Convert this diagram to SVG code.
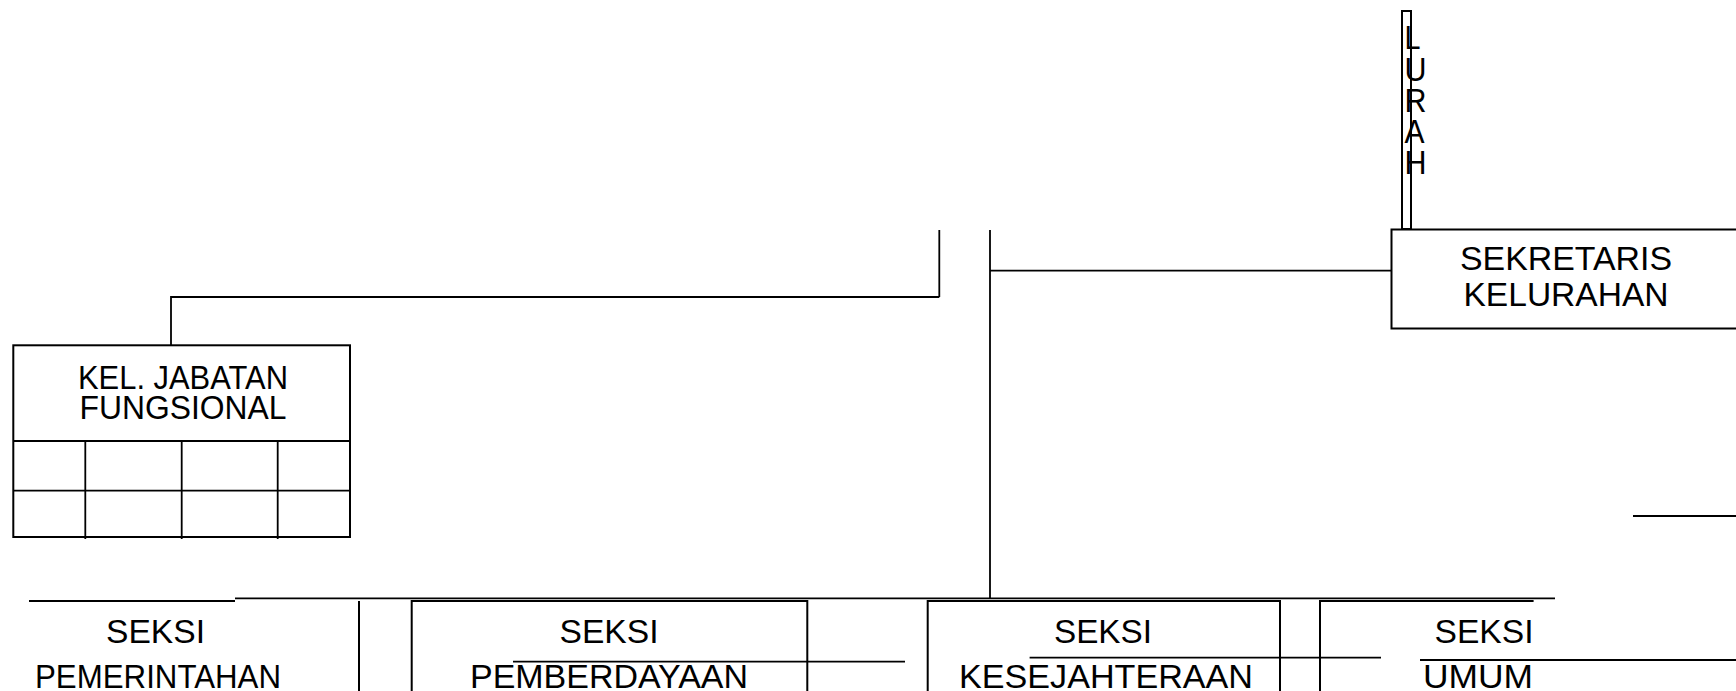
<svg xmlns="http://www.w3.org/2000/svg" width="1736" height="691" viewBox="0 0 1736 691">
<style>
.b{fill:none;stroke:#000;stroke-width:2}
.l{fill:none;stroke:#000;stroke-width:1.8}
.t{font-family:"Liberation Sans",Arial,sans-serif;font-size:34px;fill:#000}
.m{text-anchor:middle}
</style>
<rect width="1736" height="691" fill="#fff"/>
<g id="connectors">
<path class="l" d="M990 230V599M990 270.7H1391.5"/>
<path class="l" d="M939.3 230V297M939.3 297H171V345.5"/>
<path class="l" d="M235 598.3H1555"/>
<path class="l" d="M1633 516H1736" stroke="#333"/>
<path class="l" d="M513 661.7H905M1029.6 657.7H1381M1420 660H1736"/>
</g>
<g id="lurah">
<rect class="b" x="1402" y="11" width="9" height="218"/>
<text class="t" x="1404.5" y="49" textLength="16" lengthAdjust="spacingAndGlyphs">L</text>
<text class="t" x="1404.5" y="80.5" textLength="22" lengthAdjust="spacingAndGlyphs">U</text>
<text class="t" x="1404.5" y="112" textLength="22" lengthAdjust="spacingAndGlyphs">R</text>
<text class="t" x="1404.5" y="143" textLength="20" lengthAdjust="spacingAndGlyphs">A</text>
<text class="t" x="1404.5" y="174" textLength="22" lengthAdjust="spacingAndGlyphs">H</text>
</g>
<g id="sekretaris">
<rect class="b" x="1391.5" y="229.5" width="360" height="99"/>
<text class="t m" x="1566" y="270" font-size="34" textLength="212" lengthAdjust="spacingAndGlyphs">SEKRETARIS</text>
<text class="t m" x="1566" y="305.5" font-size="34" textLength="205" lengthAdjust="spacingAndGlyphs">KELURAHAN</text>
</g>
<g id="jabatan-fungsional">
<rect class="b" x="13.3" y="345.3" width="336.7" height="191.7"/>
<path class="l" d="M13.3 441H350M13.3 490.7H350M85.3 441V539M181.7 441V539M277.7 441V539"/>
<text class="t m" x="183" y="388.5" font-size="34" textLength="210" lengthAdjust="spacingAndGlyphs">KEL. JABATAN</text>
<text class="t m" x="183" y="419" font-size="34" textLength="207" lengthAdjust="spacingAndGlyphs">FUNGSIONAL</text>
</g>
<g id="seksi-pemerintahan">
<path class="b" d="M29 601H235M359 601V691"/>
<text class="t m" x="155.5" y="643" font-size="35" textLength="99" lengthAdjust="spacingAndGlyphs">SEKSI</text>
<text class="t m" x="158" y="688" font-size="35" textLength="246" lengthAdjust="spacingAndGlyphs">PEMERINTAHAN</text>
</g>
<g id="seksi-pemberdayaan">
<path class="b" d="M411.7 691V601H807.3V691"/>
<text class="t m" x="609" y="643" font-size="35" textLength="99" lengthAdjust="spacingAndGlyphs">SEKSI</text>
<text class="t m" x="609" y="688" font-size="35" textLength="278" lengthAdjust="spacingAndGlyphs">PEMBERDAYAAN</text>
</g>
<g id="seksi-kesejahteraan">
<path class="b" d="M927.7 691V601H1280V691"/>
<text class="t m" x="1103" y="643" font-size="35" textLength="98" lengthAdjust="spacingAndGlyphs">SEKSI</text>
<text class="t m" x="1106" y="688" font-size="35" textLength="294" lengthAdjust="spacingAndGlyphs">KESEJAHTERAAN</text>
</g>
<g id="seksi-umum">
<path class="b" d="M1320 691V601H1533.6"/>
<text class="t m" x="1484" y="643" font-size="35" textLength="99" lengthAdjust="spacingAndGlyphs">SEKSI</text>
<text class="t m" x="1478" y="688" font-size="35" textLength="110" lengthAdjust="spacingAndGlyphs">UMUM</text>
</g>
</svg>
